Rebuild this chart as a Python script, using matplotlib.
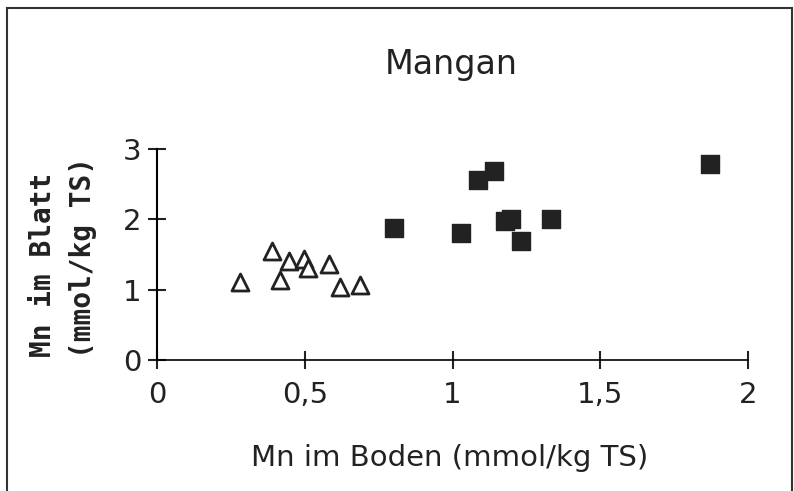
import matplotlib
matplotlib.use('Agg')
import matplotlib.pyplot as plt
from matplotlib.patches import Rectangle
from matplotlib.ticker import FuncFormatter

# Mn im Boden (x) vs. Mn im Blatt (y)
tri_x = [0.28, 0.39, 0.415, 0.445, 0.497, 0.51, 0.58, 0.62, 0.685]
tri_y = [1.10, 1.55, 1.14, 1.40, 1.43, 1.31, 1.36, 1.03, 1.06]
sq_x = [0.80, 1.03, 1.085, 1.14, 1.178, 1.197, 1.232, 1.333, 1.87]
sq_y = [1.88, 1.81, 2.56, 2.68, 1.97, 2.00, 1.69, 2.00, 2.79]
xticks = [0, 0.5, 1, 1.5, 2]
yticks = [0, 1, 2, 3]

plt.rcParams['font.family'] = ['DejaVu Sans']

fig = plt.figure(figsize=(7.94, 4.91), dpi=100)
fig.patches.append(Rectangle((0.009, -0.01), 0.988, 0.993, transform=fig.transFigure,
                             fill=False, edgecolor='#333333', linewidth=1.5))

ax = fig.add_axes([0.198, 0.267, 0.744, 0.43])
ax.scatter(tri_x, tri_y, marker='^', s=150, facecolor='white', edgecolor='#222222',
           linewidth=2, zorder=3)
ax.scatter(sq_x, sq_y, marker='s', s=150, color='#222222', zorder=3)

ax.set_xlim(0, 2)
ax.set_ylim(0, 3)
ax.set_xticks(xticks)
ax.set_yticks(yticks)
ax.xaxis.set_major_formatter(FuncFormatter(lambda v, p: ('%g' % v).replace('.', ',')))

for s in ['top', 'right']:
    ax.spines[s].set_visible(False)
ax.spines['left'].set_linewidth(1.5)
ax.spines['bottom'].set_linewidth(1.2)
ax.tick_params(axis='both', direction='inout', length=13, width=1.5, colors='#222222',
               labelsize=21, pad=5)
ax.tick_params(axis='x', pad=9)

fig.text(0.568, 0.868, 'Mangan', ha='center', va='center', fontsize=24, color='#222222')
fig.text(0.566, 0.067, 'Mn im Boden (mmol/kg TS)', ha='center', va='center',
         fontsize=21, color='#222222')
fig.text(0.054, 0.46, 'Mn im Blatt', rotation=90, ha='center', va='center',
         fontsize=20, fontweight='bold', family='DejaVu Sans Mono', color='#222222')
fig.text(0.105, 0.475, '(mmol/kg TS)', rotation=90, ha='center', va='center',
         fontsize=20, fontweight='bold', family='DejaVu Sans Mono', color='#222222')

fig.savefig('out.png', dpi=100)
